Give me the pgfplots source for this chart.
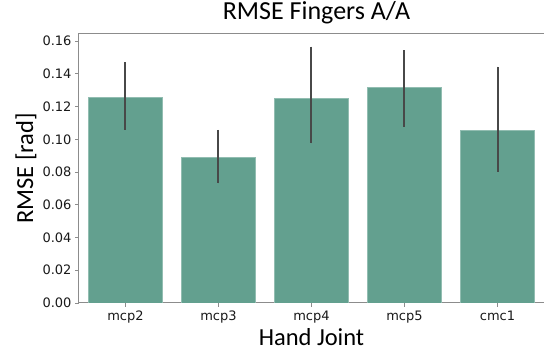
\documentclass[border=0pt]{standalone}
\usepackage{fontspec}
\setmainfont{Carlito}
\newfontfamily\dejavu{DejaVu Sans}
\usepackage{pgfplots}
\pgfplotsset{compat=1.18}
\definecolor{barc}{RGB}{99,160,143}
\definecolor{errc}{RGB}{72,72,72}
\definecolor{spine}{RGB}{140,140,140}
\begin{document}
\begin{tikzpicture}
\path[use as bounding box] (0,0) rectangle (544pt,356pt);
\begin{axis}[
  at={(79pt,53pt)}, anchor=south west,
  scale only axis, width=465pt, height=269pt,
  xmin=-0.5, xmax=4.5, ymin=0, ymax=0.1643,
  ybar, bar width=0.8, bar shift=0pt,
  xtick={0,1,2,3,4},
  xticklabels={mcp2,mcp3,mcp4,mcp5,cmc1},
  ytick={0,0.02,0.04,0.06,0.08,0.10,0.12,0.14,0.16},
  yticklabel style={/pgf/number format/fixed,/pgf/number format/precision=2,/pgf/number format/fixed zerofill},
  /pgf/number format/assume math mode=true,
  ticklabel style={font=\dejavu\fontsize{13}{15}\selectfont, text=black!90},
  tick align=outside, tick pos=left,
  major tick length=4pt,
  tick style={spine, line width=0.8pt},
  axis line style={spine, line width=1pt},
  title={RMSE Fingers A/A},
  title style={at={(axis description cs:0.5,1)}, anchor=base, yshift=8pt, xshift=5pt, font=\fontsize{26}{30}\selectfont},
  xlabel={Hand Joint},
  xlabel style={at={(axis description cs:0.5,0)}, anchor=base, yshift=-43pt, font=\fontsize{24.5}{28}\selectfont},
  ylabel={RMSE [rad]},
  ylabel style={at={(axis description cs:-0.0989,0.5)}, anchor=base, rotate=0, font=\fontsize{24.5}{28}\selectfont},
]
\addplot[fill=barc, draw=barc!70!white, line width=0.6pt,
  error bars/.cd, y dir=both, y explicit, error mark=none,
  error bar style={errc, line width=2pt}]
coordinates {
  (0,0.1258) += (0,0.0212) -= (0,0.0201)
  (1,0.0890) += (0,0.0167) -= (0,0.0160)
  (2,0.1250) += (0,0.0316) -= (0,0.0275)
  (3,0.1315) += (0,0.0230) -= (0,0.0238)
  (4,0.1055) += (0,0.0388) -= (0,0.0253)
};
\end{axis}
\end{tikzpicture}
\end{document}
